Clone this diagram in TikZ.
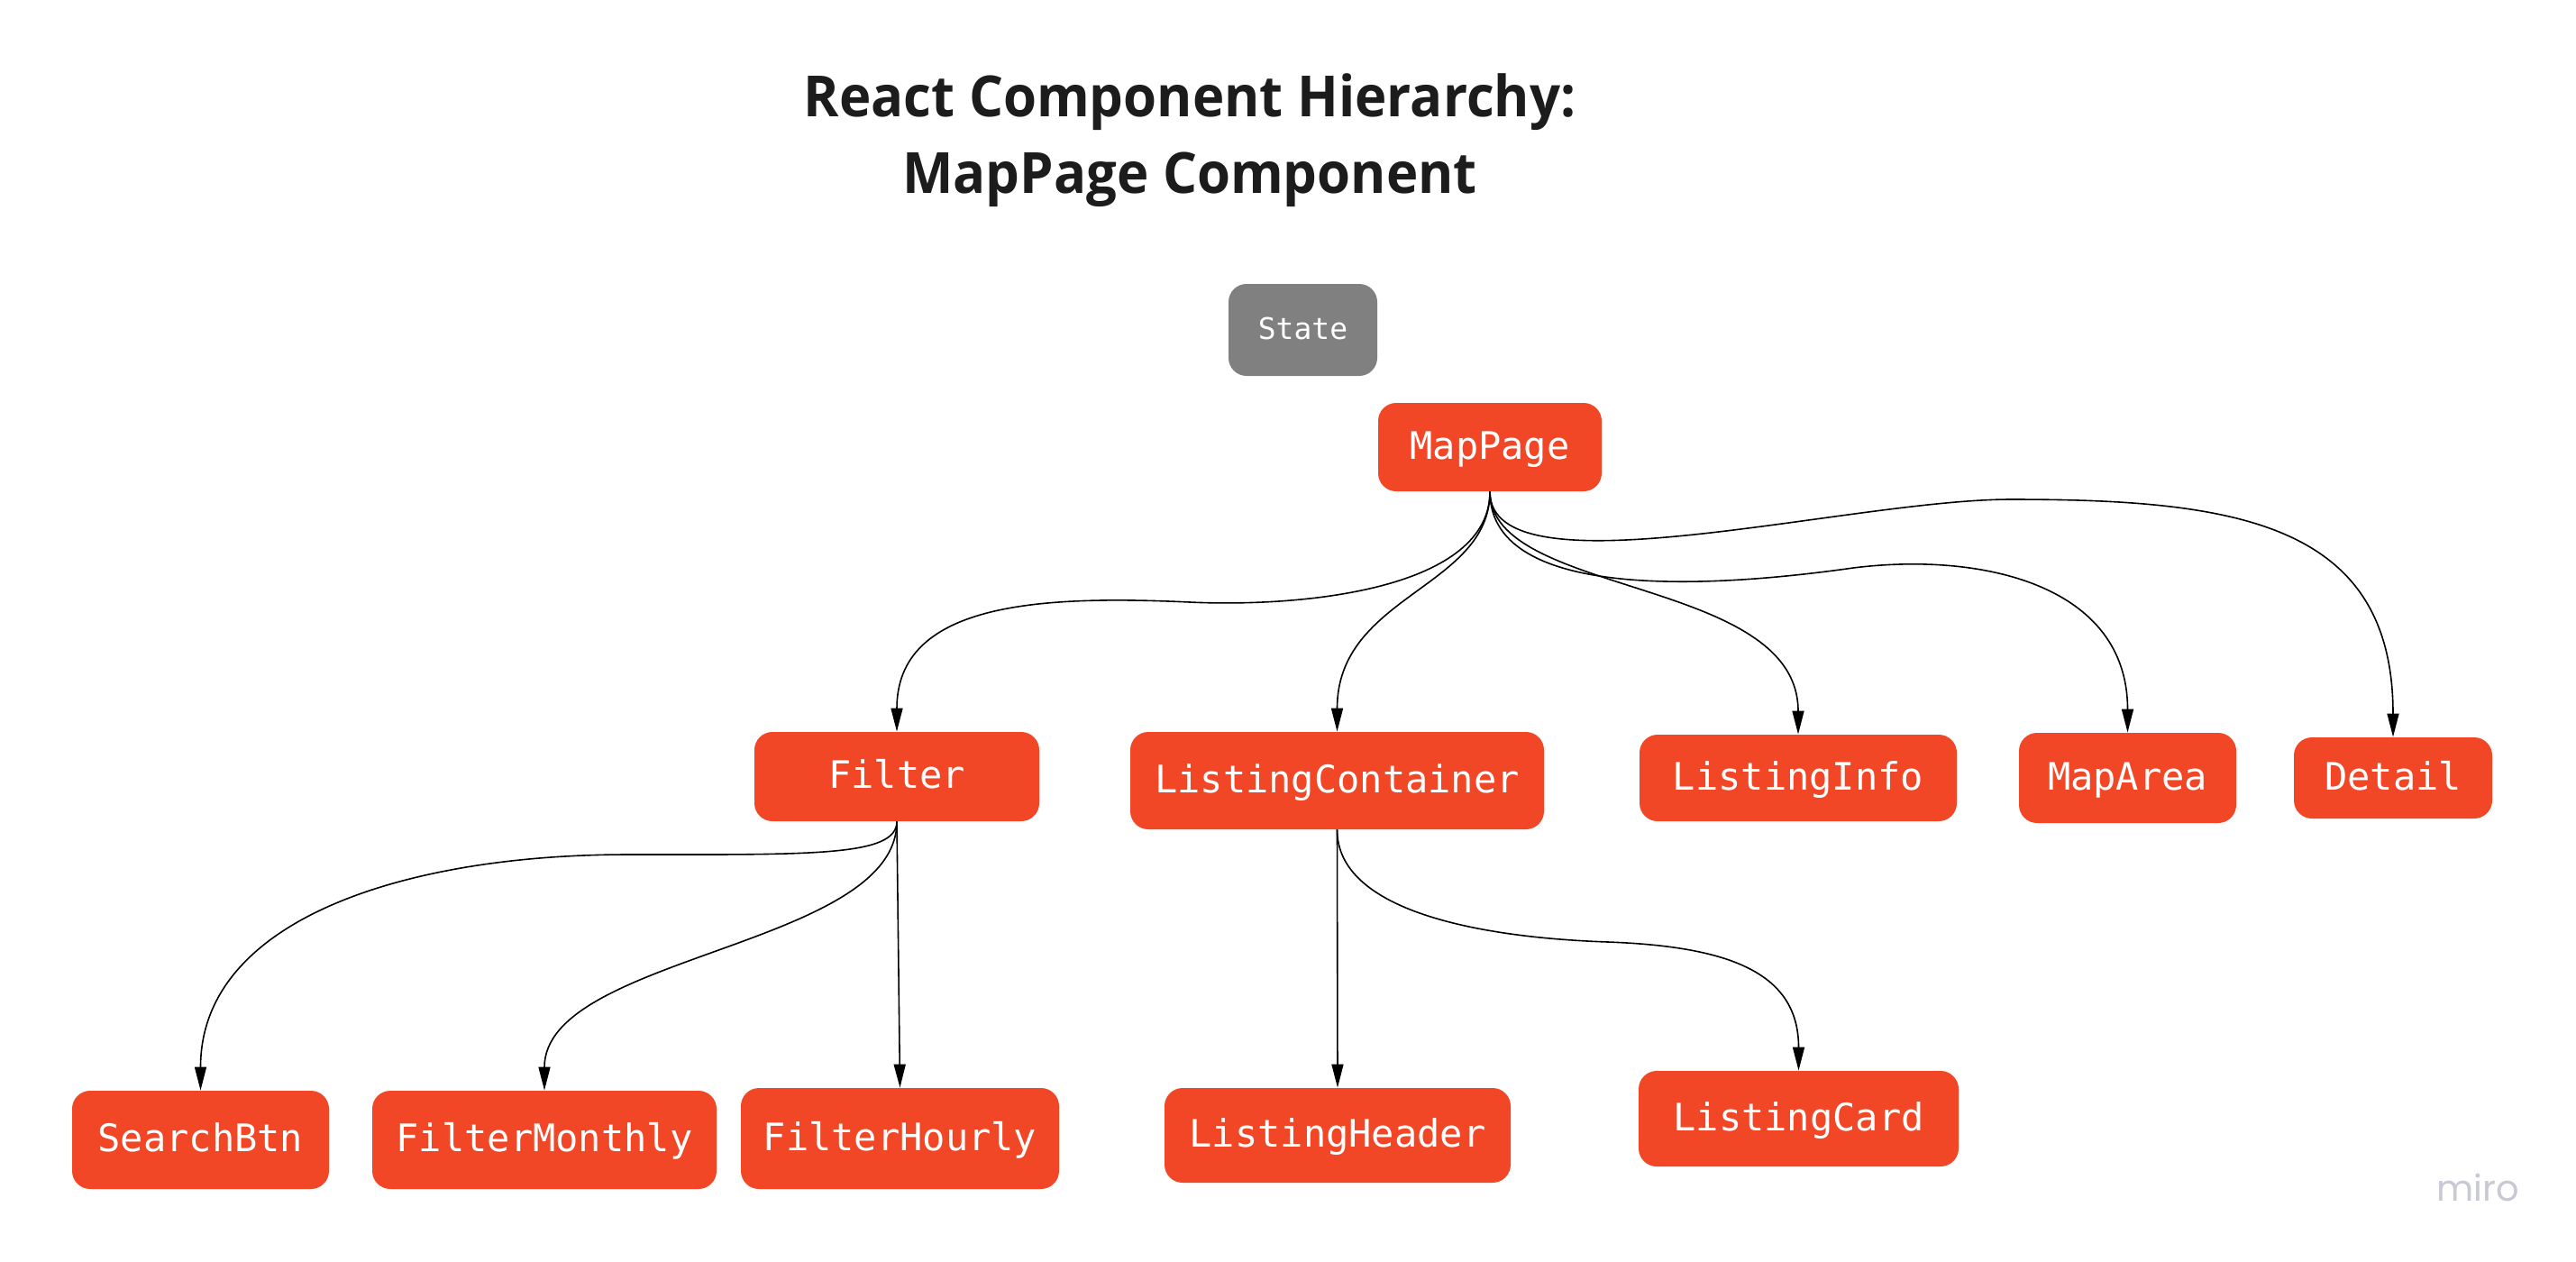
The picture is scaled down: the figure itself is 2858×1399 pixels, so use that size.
\documentclass[tikz,border=0pt]{standalone}
\usepackage{fontspec}
\setmonofont{DejaVu Sans Mono}
\newfontfamily\titlefont{Open Sans}[FakeStretch=0.95]
\newfontfamily\logofont{Poppins}
\usetikzlibrary{arrows.meta}
\definecolor{miroRed}{HTML}{F24726}
\definecolor{stateGray}{HTML}{808080}
\definecolor{logoGray}{HTML}{C9C9D6}
\definecolor{titleBlack}{HTML}{1C1C1C}

\begin{document}
\begin{tikzpicture}[x=0.5pt,y=-0.5pt,
  comp/.style={rectangle,rounded corners=10pt,fill=miroRed,text=white,inner sep=0pt,
    font=\ttfamily\fontsize{21}{25}\selectfont,text height=15pt,text depth=2pt},
  statebox/.style={comp,fill=stateGray,font=\ttfamily\fontsize{16.5}{20}\selectfont,
    text height=12pt,text depth=1.5pt},
  link/.style={-{Triangle[length=13pt,width=6.5pt]},line width=0.8pt,black}]
\fill[white] (0,0) rectangle (2858,1399);
\node[font=\titlefont\bfseries\fontsize{31.5}{42.5}\selectfont,align=center,text=titleBlack,
  anchor=north,inner sep=0pt] (title) at (1320,81) {React Component Hierarchy:\\MapPage Component};
\node[statebox,minimum width=82.5pt,minimum height=51pt] (state) at (1445.5,366) {State};
\node[comp,minimum width=124pt,minimum height=49pt] (mappage) at (1653,496) {MapPage};
\node[comp,minimum width=158pt,minimum height=49.5pt] (filter) at (995,861.5) {Filter};
\node[comp,minimum width=229.5pt,minimum height=54pt] (listingcontainer) at (1483.5,866) {ListingContainer};
\node[comp,minimum width=176pt,minimum height=48pt] (listinginfo) at (1995,863) {ListingInfo};
\node[comp,minimum width=120.5pt,minimum height=50pt] (maparea) at (2360.5,863) {MapArea};
\node[comp,minimum width=110pt,minimum height=45pt] (detail) at (2655,863) {Detail};
\node[comp,minimum width=142.5pt,minimum height=54.5pt] (searchbtn) at (222.5,1264.5) {SearchBtn};
\node[comp,minimum width=191pt,minimum height=54.5pt] (filtermonthly) at (604,1264.5) {FilterMonthly};
\node[comp,minimum width=176.5pt,minimum height=56pt] (filterhourly) at (998.5,1263) {FilterHourly};
\node[comp,minimum width=192pt,minimum height=52.5pt] (listingheader) at (1484,1259.5) {ListingHeader};
\node[comp,minimum width=177.5pt,minimum height=53pt] (listingcard) at (1995.5,1241) {ListingCard};
\node[font=\logofont\fontsize{20}{24}\selectfont,text=logoGray,anchor=base west,inner sep=0pt] (logo) at (2703,1332) {miro};
\draw[link] (mappage.south) .. controls +(0,107) and +(130,6) .. (1320,668)
  .. controls +(-170,-8) and +(0,-142) .. (filter.north);
\draw[link] (mappage.south) .. controls +(0,107) and +(0,-152) .. (listingcontainer.north);
\draw[link] (mappage.south) .. controls +(0,117) and +(0,-175) .. (listinginfo.north);
\draw[link] (mappage.south) .. controls +(0,117) and +(-176,25) .. (2056,630)
  .. controls +(144,-18) and +(0,-163) .. (maparea.north);
\draw[link] (mappage.south) .. controls +(0,117) and +(-181,0) .. (2231,554)
  .. controls +(249,0) and +(0,-238) .. (detail.north);
\draw[link] (filter.south) .. controls +(0,39) and +(203,0) .. (697,948)
  .. controls +(-247,0) and +(0,-190) .. (searchbtn.north);
\draw[link] (filter.south) .. controls +(0,139) and +(0,-150) .. (filtermonthly.north);
\draw[link] (filter.south) -- (filterhourly.north);
\draw[link] (listingcontainer.south) -- (listingheader.north);
\draw[link] (listingcontainer.south) .. controls +(0,90) and +(-144,-5) .. (1784,1045)
  .. controls +(136,5) and +(0,-108) .. (listingcard.north);
\end{tikzpicture}
\end{document}
